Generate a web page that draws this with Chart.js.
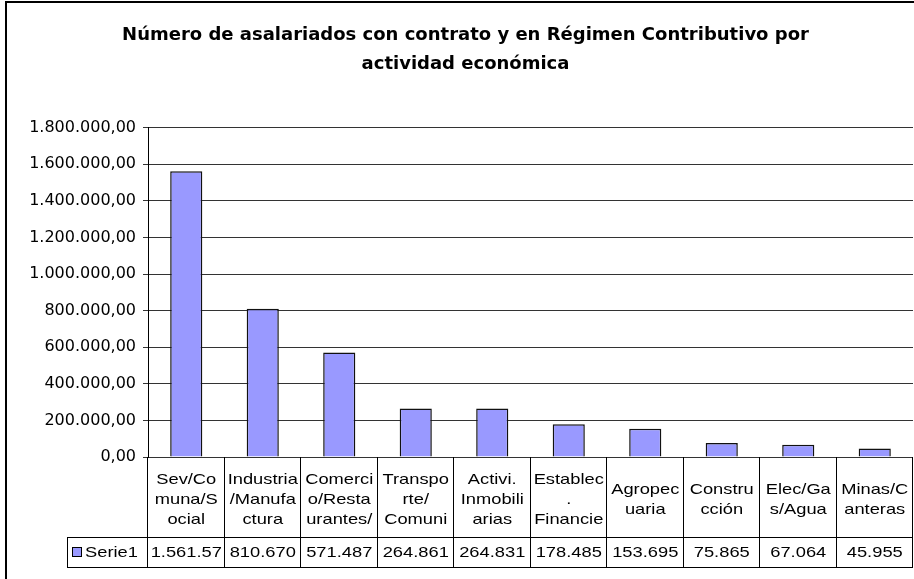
<!DOCTYPE html>
<html>
<head>
<meta charset="utf-8">
<script src="https://cdn.jsdelivr.net/npm/chart.js@4/dist/chart.umd.min.js"></script>
<style>
    html, body { margin: 0; padding: 0; background: #fff; }
</style>
</head>
<body>
<canvas id="grafico" width="914" height="579"></canvas>
<script>
// ========================
// DADOS
// ========================
const titulo = ['Número de asalariados con contrato y en Régimen Contributivo por', 'actividad económica'];
const categorias = [
    ['Sev/Co', 'muna/S', 'ocial'],
    ['Industria', '/Manufa', 'ctura'],
    ['Comerci', 'o/Resta', 'urantes/'],
    ['Transpo', 'rte/', 'Comuni'],
    ['Activi.', 'Inmobili', 'arias'],
    ['Establec', '.', 'Financie'],
    ['Agropec', 'uaria'],
    ['Constru', 'cción'],
    ['Elec/Ga', 's/Agua'],
    ['Minas/C', 'anteras']
];
const serie1 = [1561570, 810670, 571487, 264861, 264831, 178485, 153695, 75865, 67064, 45955];
const nomeSerie = 'Serie1';
const eixoYMin = 0;
const eixoYMax = 1800000;
const eixoYPasso = 200000;

const corBarra = '#9999ff';
const esticar = 1.22;  // o texto do original está esticado na horizontal

function formatoES(v, dec) {
    let partes = v.toFixed(dec).split('.');
    let inteiro = partes[0].replace(/\B(?=(\d{3})+(?!\d))/g, '.');
    return dec ? inteiro + ',' + partes[1] : inteiro;
}

function textoEsticado(ctx, t, x, y, align) {
    ctx.save();
    ctx.translate(x, y);
    ctx.scale(esticar, 1);
    ctx.textAlign = align || 'center';
    ctx.textBaseline = 'middle';
    ctx.fillText(t, 0, 0);
    ctx.restore();
}

function linha(ctx, x1, y1, x2, y2) {
    ctx.beginPath();
    ctx.moveTo(x1, y1);
    ctx.lineTo(x2, y2);
    ctx.stroke();
}

// ========================
// TABELA DE DADOS + MOLDURA
// ========================
const tabelaDados = {
    id: 'tabelaDados',
    afterDraw(chart) {
        const ctx = chart.ctx;
        const x = chart.scales.x;
        const area = chart.chartArea;
        const largura = (area.right - area.left) / categorias.length;
        const yTopo = area.bottom;
        const yMeio = area.bottom + 80;
        const yFim = yMeio + 30;
        const xLegenda = 67;

        ctx.save();
        ctx.strokeStyle = '#000';
        ctx.lineWidth = 1;
        linha(ctx, xLegenda, yMeio + 0.5, area.right, yMeio + 0.5);
        linha(ctx, xLegenda, yFim + 0.5, area.right, yFim + 0.5);
        linha(ctx, xLegenda + 0.5, yMeio, xLegenda + 0.5, yFim);
        for (let i = 0; i <= categorias.length; i++) {
            const xl = Math.round(area.left + i * largura) - 0.5;
            linha(ctx, xl, yTopo, xl, yFim + 1);
        }

        ctx.fillStyle = '#000';
        ctx.font = '15px "Liberation Sans", Arial, sans-serif';
        categorias.forEach((linhas, i) => {
            const cx = x.getPixelForValue(i);
            const y0 = (yTopo + yMeio) / 2 + 3 - (linhas.length - 1) * 10;
            linhas.forEach((t, k) => textoEsticado(ctx, t, cx, y0 + k * 20));

            // como no Excel: corta os caracteres que não cabem na célula
            let valor = formatoES(serie1[i], 0);
            while (ctx.measureText(valor).width * esticar > largura - 2) valor = valor.slice(0, -1);
            textoEsticado(ctx, valor, cx, (yMeio + yFim) / 2 + 1);
        });

        // legenda da série
        const ly = Math.round((yMeio + yFim) / 2) - 4.5;
        ctx.fillStyle = corBarra;
        ctx.fillRect(xLegenda + 5.5, ly, 9, 9);
        ctx.strokeRect(xLegenda + 5.5, ly, 9, 9);
        ctx.fillStyle = '#000';
        textoEsticado(ctx, nomeSerie, xLegenda + 18, (yMeio + yFim) / 2 + 1, 'left');

        // moldura exterior
        ctx.lineWidth = 2;
        linha(ctx, 6, 2, 6, chart.height);
        linha(ctx, 5, 2, chart.width, 2);
        ctx.restore();
    }
};

// ========================
// GRÁFICO
// ========================
const ctx = document.getElementById('grafico').getContext('2d');
new Chart(ctx, {
    type: 'bar',
    data: {
        labels: categorias.map(c => c.join('')),
        datasets: [{
            label: nomeSerie,
            data: serie1,
            backgroundColor: corBarra,
            borderColor: '#111',
            borderWidth: 1.5,
            barPercentage: 0.42,
            categoryPercentage: 1
        }]
    },
    options: {
        responsive: false,
        animation: false,
        layout: { padding: { left: 18, right: 1, top: 0, bottom: 122 } },
        plugins: {
            legend: { display: false },
            tooltip: { enabled: false },
            title: {
                display: true,
                text: titulo,
                color: '#000',
                font: { family: '"DejaVu Sans"', size: 18, weight: 'bold', lineHeight: 1.6 },
                padding: { top: 21, bottom: 49 }
            }
        },
        scales: {
            x: { display: false },
            y: {
                min: eixoYMin,
                max: eixoYMax,
                afterFit: s => { s.width = 130; },
                ticks: {
                    stepSize: eixoYPasso,
                    color: '#000',
                    padding: 7,
                    font: { family: '"DejaVu Sans"', size: 16 },
                    callback: v => formatoES(v, 2)
                },
                grid: { color: '#333', lineWidth: 1, tickLength: 5 },
                border: { display: true, color: '#000', width: 1 }
            }
        }
    },
    plugins: [tabelaDados]
});
</script>
</body>
</html>
